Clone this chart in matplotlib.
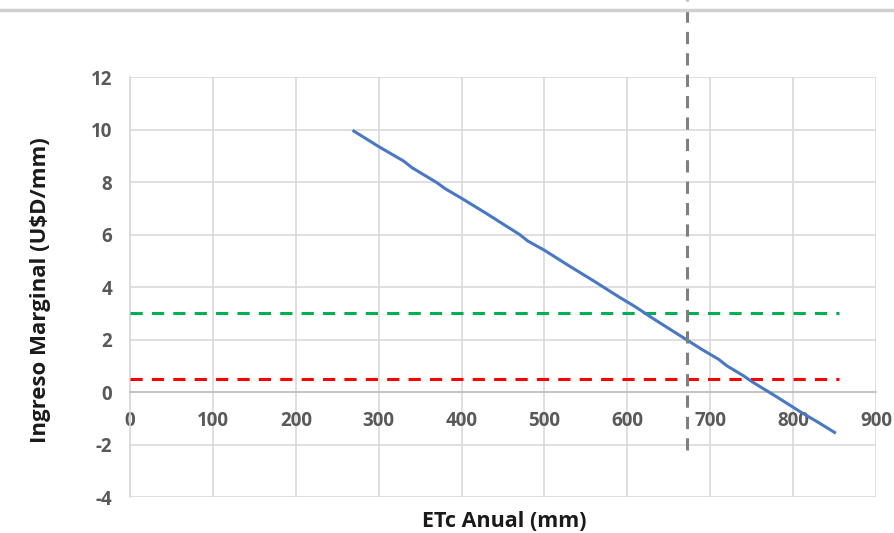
import matplotlib.pyplot as plt
from matplotlib.lines import Line2D

# ETc anual (mm) vs ingreso marginal (U$D/mm)
etc = [270, 300, 330, 340, 370, 380, 400, 430, 460, 470, 480, 500, 530, 560,
       590, 610, 630, 660, 690, 710, 720, 740, 750, 780, 810, 830, 850]
ingreso = [9.94, 9.35, 8.80, 8.55, 7.98, 7.75, 7.38, 6.80, 6.20, 6.00, 5.75,
           5.40, 4.80, 4.22, 3.62, 3.24, 2.82, 2.22, 1.62, 1.25, 1.00, 0.62,
           0.40, -0.18, -0.78, -1.15, -1.54]

nivel_verde = 3.0
nivel_rojo = 0.5
etc_optimo = 672

x_ticks = [0, 100, 200, 300, 400, 500, 600, 700, 800, 900]
y_ticks = [-4, -2, 0, 2, 4, 6, 8, 10, 12]

plt.rcParams['font.family'] = ['Open Sans', 'DejaVu Sans']
plt.rcParams['axes.unicode_minus'] = False

fig = plt.figure(figsize=(8.95, 5.33), dpi=100)
ax = fig.add_axes([0.1453, 0.0675, 0.8335, 0.788])

ax.plot(etc, ingreso, color='#4a78c2', linewidth=2.2, zorder=4)
ax.plot([0, 855], [nivel_verde, nivel_verde], color='#00b050', linewidth=2.2,
        dashes=(4, 3), zorder=3)
ax.plot([0, 855], [nivel_rojo, nivel_rojo], color='#ff0000', linewidth=2.2,
        dashes=(4, 3), zorder=3)
ax.plot([etc_optimo, etc_optimo], [-2.2, 14.95], color='#7f7f7f', linewidth=2.2,
        dashes=(4, 3), zorder=5, clip_on=False)

ax.set_xlim(0, 900)
ax.set_ylim(-4, 12)
ax.set_xticks(x_ticks)
ax.set_yticks(y_ticks)

ax.grid(True, color='#d9d9d9', linewidth=1.2)
ax.set_axisbelow(True)
for s in ['top', 'right']:
    ax.spines[s].set_visible(False)
ax.spines['bottom'].set_position(('data', 0))
ax.spines['bottom'].set_color('#bfbfbf')
ax.spines['left'].set_color('#d9d9d9')
ax.spines['bottom'].set_linewidth(1.2)
ax.spines['left'].set_linewidth(1.2)

ax.tick_params(axis='both', length=0, labelsize=13.5, labelcolor='#595959')
ax.tick_params(axis='x', pad=14)
ax.tick_params(axis='y', pad=13)
for lab in ax.get_xticklabels() + ax.get_yticklabels():
    lab.set_fontweight('bold')

fig.text(0.045, 0.456, 'Ingreso Marginal (U$D/mm)', rotation=90, ha='center',
         va='center', fontsize=16, fontweight='bold', color='#1a1a1a')
fig.text(0.5635, 0.022, 'ETc Anual (mm)', ha='center', va='center',
         fontsize=15.5, fontweight='bold', color='#1a1a1a')

fig.add_artist(Line2D([0, 1], [0.981, 0.981], transform=fig.transFigure,
                      color='#d0d0d0', linewidth=2.5))

fig.savefig('out.png', dpi=100)
